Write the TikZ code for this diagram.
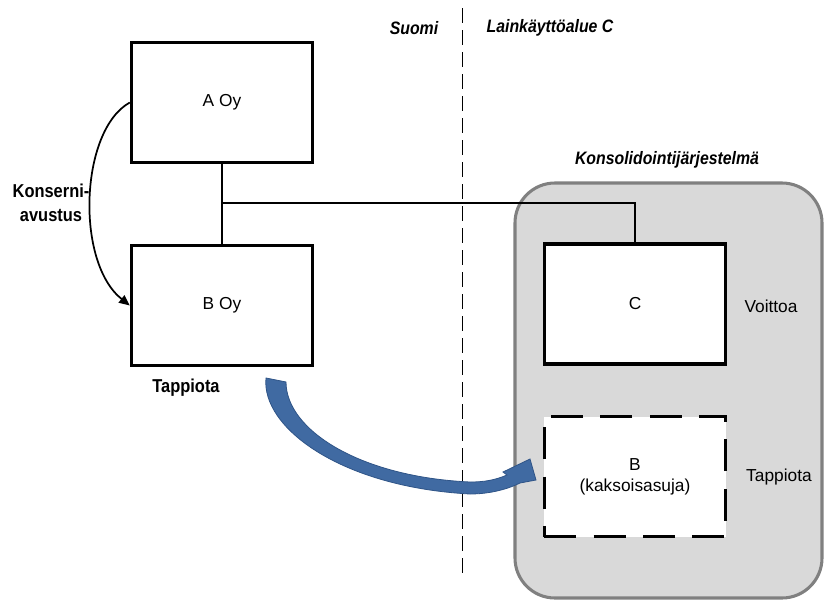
\documentclass[tikz,border=0pt]{standalone}
\usepackage{fontspec}
\setmainfont{Liberation Sans}
\newfontfamily\condfont[FakeStretch=0.88]{Liberation Sans}
\usetikzlibrary{arrows.meta}
\definecolor{panelgray}{RGB}{217,217,217}
\definecolor{paneledge}{RGB}{128,128,128}
\definecolor{arrowblue}{RGB}{64,106,162}
\definecolor{arrowedge}{RGB}{47,84,135}
\tikzset{
  entity/.style={draw=black, line width=2.3pt, fill=white, minimum width=136pt,
    minimum height=90pt, inner sep=0pt, font=\fontsize{13}{15.5}\selectfont, align=center},
  ghost/.style={entity, dash pattern=on 24pt off 13pt},
  link/.style={draw=black, line width=1.5pt},
  plain/.style={font=\fontsize{13}{15.5}\selectfont, inner sep=0pt},
  boldlabel/.style={font=\condfont\bfseries\fontsize{14}{18}\selectfont, inner sep=0pt, align=center},
  zonelabel/.style={font=\condfont\bfseries\itshape\fontsize{13.5}{16}\selectfont, inner sep=0pt}
}
\begin{document}
\begin{tikzpicture}[x=0.75pt, y=-0.75pt]
  \useasboundingbox (0,0) rectangle (824,600);

  % consolidation group panel
  \draw[fill=panelgray, draw=paneledge, line width=2.3pt, rounded corners=30pt]
    (515,183) rectangle (822,598);

  % border between the two jurisdictions
  \draw[line width=1.4pt, dash pattern=on 11pt off 5.5pt] (462.5,8) -- (462.5,578);

  % companies
  \node[entity] (A) at (222,102.5) {A Oy};
  \node[entity] (B) at (222,305.5) {B Oy};
  \node[entity] (C) at (635,304) {C};
  \node[ghost]  (D) at (635,476.5) {B\\(kaksoisasuja)};

  % ownership lines
  \coordinate (j) at (222,203);
  \draw[link] (A.south) -- (B.north);
  \draw[link, line width=1.3pt] (j) -| (C.north);

  % group contribution
  \draw[line width=1.3pt, -{Triangle[length=8pt, width=7pt]}]
    (A.west) .. controls (80,130) and (75,262) .. (B.west);

  % loss transfer arrow
  \filldraw[fill=arrowblue, draw=arrowedge, line width=0.6pt]
    (266,378) .. controls (261,427) and (340,487) .. (470,494)
    .. controls (490,494) and (508,489) .. (520,483)
    -- (536,480) -- (530,459) -- (503,472) -- (507,475)
    .. controls (495,480) and (485,482) .. (470,482)
    .. controls (360,477) and (286,430) .. (286,382) -- cycle;

  % labels
  \node[zonelabel] (fi) at (414,28) {Suomi};
  \node[zonelabel] (jc) at (550,28) {Lainkäyttöalue C};
  \node[zonelabel] (ks) at (667,160) {Konsolidointijärjestelmä};
  \node[boldlabel] (ka) at (51,203) {Konserni-\\avustus};
  \node[boldlabel] (tl) at (186,388) {Tappiota};
  \node[plain] (vo) at (771,306) {Voittoa};
  \node[plain] (tr) at (779,477) {Tappiota};
\end{tikzpicture}
\end{document}
